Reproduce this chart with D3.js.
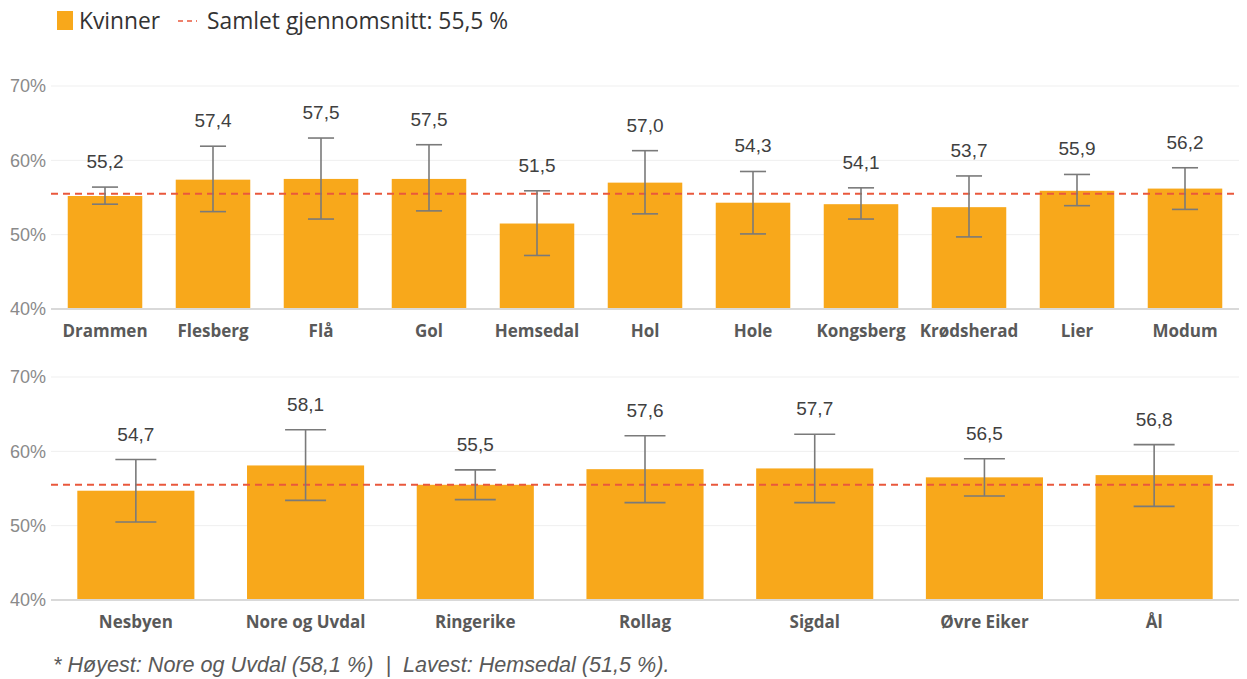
<!DOCTYPE html>
<html>
<head>
<meta charset="utf-8">
<script src="https://cdn.jsdelivr.net/npm/d3@7"></script>
<style>
  body { margin: 0; background: #fff; }
  svg { display: block; }
</style>
</head>
<body>
<svg id="chart"></svg>
<script>
// data
var topNames = ["Drammen", "Flesberg", "Flå", "Gol", "Hemsedal", "Hol", "Hole", "Kongsberg", "Krødsherad", "Lier", "Modum"];
var topValues = [55.2, 57.4, 57.5, 57.5, 51.5, 57.0, 54.3, 54.1, 53.7, 55.9, 56.2];
var topLow = [54.1, 53.1, 52.1, 53.2, 47.2, 52.8, 50.1, 52.1, 49.7, 53.9, 53.4];
var topHigh = [56.4, 61.9, 63.0, 62.1, 55.9, 61.3, 58.5, 56.3, 57.9, 58.1, 59.0];

var bottomNames = ["Nesbyen", "Nore og Uvdal", "Ringerike", "Rollag", "Sigdal", "Øvre Eiker", "Ål"];
var bottomValues = [54.7, 58.1, 55.5, 57.6, 57.7, 56.5, 56.8];
var bottomLow = [50.5, 53.4, 53.5, 53.1, 53.1, 54.0, 52.6];
var bottomHigh = [58.9, 62.9, 57.5, 62.1, 62.3, 59.0, 60.9];

var yTicks = [40, 50, 60, 70];
var average = 55.5;
var legendLabels = ["Kvinner", "Samlet gjennomsnitt: 55,5 %"];
var footnote = "* Høyest: Nore og Uvdal (58,1 %)  |  Lavest: Hemsedal (51,5 %).";

var ui = {
  width: 1247,
  height: 679,
  left: 51,
  right: 1239,
  bar: "#F8A81B",
  err: "#7a7a7a",
  avg: "#E9583C",
  grid: "#efefef",
  base: "#d9d9d9"
};

var svg = d3.select("#chart")
  .attr("width", ui.width)
  .attr("height", ui.height);

function panel(names, values, low, high, top, bottom) {
  var data = names.map(function(n, i) {
    return { name: n, v: values[i], lo: low[i], hi: high[i] };
  });

  var x = d3.scaleBand()
    .domain(names)
    .range([ui.left, ui.right])
    .paddingInner(0.31)
    .paddingOuter(0.155);

  var y = d3.scaleLinear()
    .domain([40, 70])
    .range([bottom, top]);

  var g = svg.append("g");

  // grid
  g.selectAll(".grid")
    .data(yTicks)
    .enter().append("line")
    .attr("x1", ui.left)
    .attr("x2", ui.right)
    .attr("y1", function(d) { return y(d) })
    .attr("y2", function(d) { return y(d) })
    .style("stroke", function(d) { return d === 40 ? ui.base : ui.grid })
    .style("stroke-width", function(d) { return d === 40 ? 2 : 1 });

  var yAxis = g.append("g")
    .attr("transform", "translate(" + (ui.left - 5) + ",0)")
    .call(d3.axisLeft(y).tickValues(yTicks).tickSize(0).tickPadding(0).tickFormat(function(d) { return d + "%" }));
  yAxis.select(".domain").remove();
  yAxis.selectAll("text")
    .style("font-family", "Liberation Sans, Arial, sans-serif")
    .style("font-size", "18px")
    .style("fill", "#8a8a8a");

  g.selectAll(".bar")
    .data(data)
    .enter().append("rect")
    .attr("x", function(d) { return x(d.name) })
    .attr("width", x.bandwidth())
    .attr("y", function(d) { return y(d.v) })
    .attr("height", function(d) { return y(40) - y(d.v) - 1 })
    .style("fill", ui.bar);

  // average line
  g.append("line")
    .attr("x1", ui.left)
    .attr("x2", ui.right)
    .attr("y1", y(average))
    .attr("y2", y(average))
    .style("stroke", ui.avg)
    .style("stroke-width", 2)
    .style("stroke-dasharray", "7,5");

  // error bars
  var cap = x.bandwidth() * 0.35;
  var eb = g.selectAll(".err")
    .data(data)
    .enter().append("g");
  eb.append("line")
    .attr("x1", function(d) { return x(d.name) + x.bandwidth() / 2 })
    .attr("x2", function(d) { return x(d.name) + x.bandwidth() / 2 })
    .attr("y1", function(d) { return y(d.lo) })
    .attr("y2", function(d) { return y(d.hi) });
  eb.append("line")
    .attr("x1", function(d) { return x(d.name) + x.bandwidth() / 2 - cap / 2 })
    .attr("x2", function(d) { return x(d.name) + x.bandwidth() / 2 + cap / 2 })
    .attr("y1", function(d) { return y(d.hi) })
    .attr("y2", function(d) { return y(d.hi) });
  eb.append("line")
    .attr("x1", function(d) { return x(d.name) + x.bandwidth() / 2 - cap / 2 })
    .attr("x2", function(d) { return x(d.name) + x.bandwidth() / 2 + cap / 2 })
    .attr("y1", function(d) { return y(d.lo) })
    .attr("y2", function(d) { return y(d.lo) });
  eb.selectAll("line")
    .style("stroke", ui.err)
    .style("stroke-width", 1.6);

  // value labels
  g.selectAll(".val")
    .data(data)
    .enter().append("text")
    .attr("x", function(d) { return x(d.name) + x.bandwidth() / 2 })
    .attr("y", function(d) { return y(d.hi) - 19 })
    .attr("text-anchor", "middle")
    .style("font-family", "Liberation Sans, Arial, sans-serif")
    .style("font-size", "19px")
    .style("fill", "#404040")
    .text(function(d) { return d.v.toFixed(1).replace(".", ",") });

  var xAxis = g.append("g")
    .attr("transform", "translate(0," + bottom + ")")
    .call(d3.axisBottom(x).tickSize(0).tickPadding(16));
  xAxis.select(".domain").remove();
  xAxis.selectAll("text")
    .style("font-family", "Open Sans, sans-serif")
    .style("font-weight", "bold")
    .style("font-size", "17px")
    .style("fill", "#595959");
}

panel(topNames, topValues, topLow, topHigh, 86, 309);
panel(bottomNames, bottomValues, bottomLow, bottomHigh, 377, 600);

// legend
var legend = svg.append("g");
legend.append("rect")
  .attr("x", 57)
  .attr("y", 11)
  .attr("width", 16)
  .attr("height", 19)
  .style("fill", ui.bar);
legend.append("text")
  .attr("x", 79)
  .attr("y", 29)
  .text(legendLabels[0]);
legend.append("line")
  .attr("x1", 178)
  .attr("x2", 197)
  .attr("y1", 21)
  .attr("y2", 21)
  .style("stroke", ui.avg)
  .style("stroke-width", 1.5)
  .style("stroke-dasharray", "5,4");
legend.append("text")
  .attr("x", 207)
  .attr("y", 29)
  .text(legendLabels[1]);
legend.selectAll("text")
  .style("font-family", "Open Sans, sans-serif")
  .style("font-size", "22.8px")
  .style("fill", "#333");

svg.append("text")
  .attr("x", 53)
  .attr("y", 672)
  .style("font-family", "Liberation Sans, Arial, sans-serif")
  .style("font-style", "italic")
  .style("font-size", "21.6px")
  .style("fill", "#595959")
  .style("white-space", "pre")
  .text(footnote);
</script>
</body>
</html>
